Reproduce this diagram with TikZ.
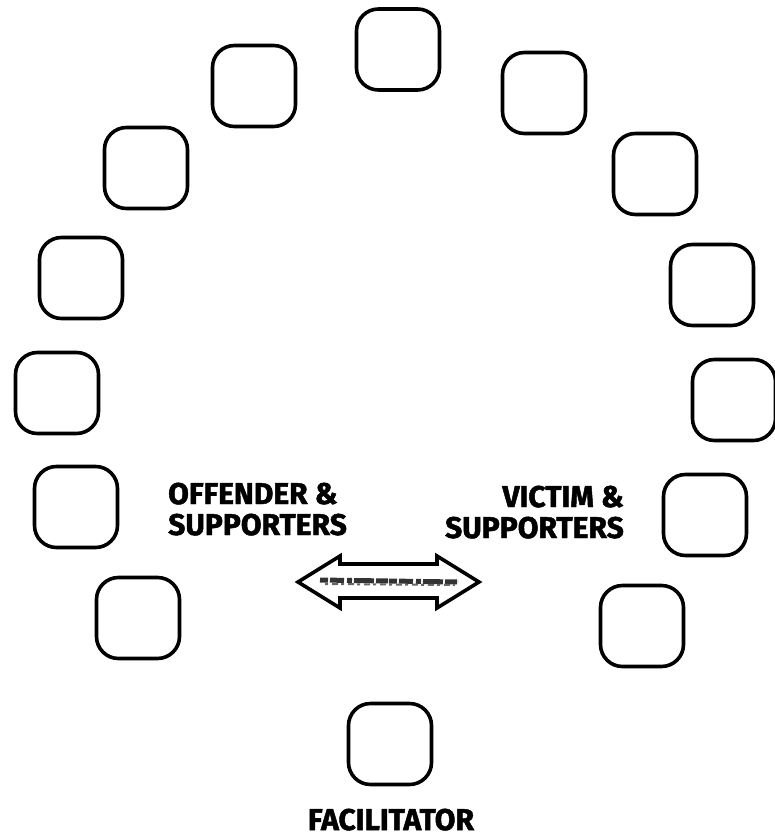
\documentclass[tikz,border=0pt]{standalone}
\usepackage{fontspec}
\newfontfamily\labfont{Fira Sans}[BoldFeatures={FakeBold=1.6}]
\begin{document}
\begin{tikzpicture}[x=1pt,y=-1pt,
  seat/.style={draw, line width=3.6pt, rounded corners=22pt, minimum width=83pt, minimum height=81pt, inner sep=0pt},
  lab/.style={font=\labfont\bfseries\fontsize{30}{31}\selectfont, inner sep=0pt},
  arrowshape/.style={draw, line width=3.6pt, line join=miter, fill=white},
  noise/.style={black!80, line width=5pt, dash pattern=on 8pt off 2pt on 14pt off 3pt on 5pt off 2pt on 20pt off 2pt on 12pt off 1pt}]
\useasboundingbox (0,0) rectangle (774,838);
% seats around the circle
\node[seat] (t)  at (398,49.5) {};
\node[seat] (l2) at (254,86) {};
\node[seat] (l3) at (146,168) {};
\node[seat] (l4) at (81,278) {};
\node[seat] (l5) at (57,393) {};
\node[seat] (l6) at (76,507) {};
\node[seat] (l7) at (138,618) {};
\node[seat] (r2) at (544,93) {};
\node[seat] (r3) at (655,174) {};
\node[seat] (r4) at (712,285) {};
\node[seat] (r5) at (734,400) {};
\node[seat] (r6) at (705,515) {};
\node[seat] (r7) at (642,626) {};
\node[seat] (f)  at (390,744) {};
% labels
\node[lab, anchor=base west, align=left] (off) at (168,535) {OFFENDER \&\\SUPPORTERS};
\node[lab, anchor=base east, align=right] (vic) at (624,538) {VICTIM \&\\SUPPORTERS};
\node[lab, anchor=base] (fac) at (391,830) {FACILITATOR};
% double arrow
\draw[arrowshape] (298,582) -- (340,556) -- (340,564) -- (437,564) -- (437,556) -- (479,582)
  -- (437,608) -- (437,598) -- (340,598) -- (340,608) -- cycle;
\draw[noise] (320,580) -- (458,582);
\draw[black!60, line width=2pt, dash pattern=on 3pt off 4pt on 6pt off 3pt] (325,584) -- (455,585);
\end{tikzpicture}
\end{document}
